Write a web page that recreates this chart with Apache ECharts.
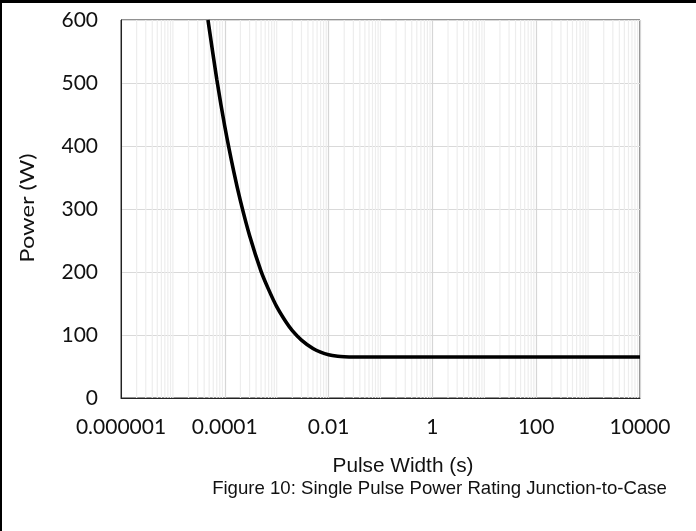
<!DOCTYPE html>
<html>
<head>
<meta charset="utf-8">
<script src="https://cdn.jsdelivr.net/npm/echarts@6/dist/echarts.min.js"></script>
<style>
html,body{margin:0;padding:0;background:#fff;}
#chart{width:696px;height:531px;}
</style>
</head>
<body>
<div id="chart"></div>
<script>
// Data (estimated along the drawn curve)
const pulseWidth = [4.74e-5, 7e-5, 1e-4, 1.5e-4, 2e-4, 3e-4, 5e-4, 7e-4, 1e-3, 1.5e-3, 2e-3, 3e-3, 5e-3, 7e-3, 1e-2, 1.5e-2, 2e-2, 3e-2, 0.1, 1, 10, 100, 1000, 10000];
const power      = [600,     506,  431,  358,    313,  258,  201,  172,  145,  121,    107,  92,   78.5, 72.7, 68.6, 66.2,   65.4, 65,   65,  65, 65, 65,  65,   65];
const xTickValues = [1e-6, 1e-4, 1e-2, 1, 100, 10000];
const xTickLabels = ['0.000001', '0.0001', '0.01', '1', '100', '10000'];
const yTickValues = [0, 100, 200, 300, 400, 500, 600];
const xAxisTitle = 'Pulse Width (s)';
const yAxisTitle = 'Power (W)';
const figureTitle = 'Figure 10: Single Pulse Power Rating Junction-to-Case';

// light vertical gridline positions (2..9 within each decade, plus the odd decades)
const minorGrid = [];
for (let e = -6; e <= 3; e++) {
  if (e % 2 !== 0) minorGrid.push(Math.pow(10, e));
  for (let k = 2; k <= 9; k++) minorGrid.push(k * Math.pow(10, e));
}

const chart = echarts.init(document.getElementById('chart'));
const labelFont = 'Lato';
chart.setOption({
  animation: false,
  backgroundColor: '#fff',
  grid: { left: 121, right: 56, top: 20, bottom: 133, show: true, borderColor: '#222', borderWidth: 1, containLabel: false },
  xAxis: {
    type: 'log', logBase: 10, min: 1e-6, max: 1e4, interval: 2,
    axisLine: { show: true, lineStyle: { color: '#222', width: 1 } },
    axisTick: { show: false },
    splitLine: { show: true, lineStyle: { color: '#d6d6d6', width: 1.2 } },
    axisLabel: {
      color: '#111', fontFamily: labelFont, fontSize: 21, margin: 19,
      formatter: function (v) {
        const e = Math.round(Math.log10(v));
        for (let i = 0; i < xTickValues.length; i++) {
          if (Math.round(Math.log10(xTickValues[i])) === e) return xTickLabels[i];
        }
        return '';
      }
    }
  },
  yAxis: {
    type: 'value', min: yTickValues[0], max: yTickValues[yTickValues.length - 1], interval: 100,
    axisLine: { show: true, lineStyle: { color: '#222', width: 1 } },
    axisTick: { show: false },
    splitLine: { show: true, lineStyle: { color: '#d9d9d9', width: 1.2 } },
    axisLabel: { color: '#111', fontFamily: labelFont, fontSize: 21, margin: 23 }
  },
  graphic: [
    { type: 'rect', shape: { x: 0, y: 0, width: 696, height: 3 }, style: { fill: '#000' }, z: 100 },
    { type: 'rect', shape: { x: 0, y: 0, width: 2, height: 531 }, style: { fill: '#000' }, z: 100 },
    { type: 'text', x: 28, y: 208, rotation: Math.PI / 2, scaleX: 1.18, scaleY: 1,
      style: { text: yAxisTitle, fill: '#111', font: '20px Lato', textAlign: 'center', textVerticalAlign: 'middle' } },
    { type: 'text', x: 403, y: 466, style: { text: xAxisTitle, fill: '#111', font: '20.8px "Liberation Sans"', textAlign: 'center', textVerticalAlign: 'middle' } },
    { type: 'text', x: 439.5, y: 489, style: { text: figureTitle, fill: '#111', font: '18.6px "Liberation Sans"', textAlign: 'center', textVerticalAlign: 'middle' } }
  ],
  series: [
    {
      type: 'custom', silent: true, z: 1,
      data: minorGrid.map(v => [v, 0]),
      encode: { x: 0, y: 1 },
      renderItem: function (params, api) {
        const v = api.value(0);
        const p0 = api.coord([v, yTickValues[0]]);
        const p1 = api.coord([v, yTickValues[yTickValues.length - 1]]);
        return { type: 'line', silent: true, shape: { x1: p0[0], y1: p0[1], x2: p1[0], y2: p1[1] }, style: { stroke: '#ededed', lineWidth: 1.2 } };
      }
    },
    {
      type: 'line', z: 5,
      data: pulseWidth.map((x, i) => [x, power[i]]),
      showSymbol: false, smooth: 0.3,
      lineStyle: { color: '#000', width: 3.6 },
      emphasis: { disabled: true }
    }
  ]
});
</script>
</body>
</html>
